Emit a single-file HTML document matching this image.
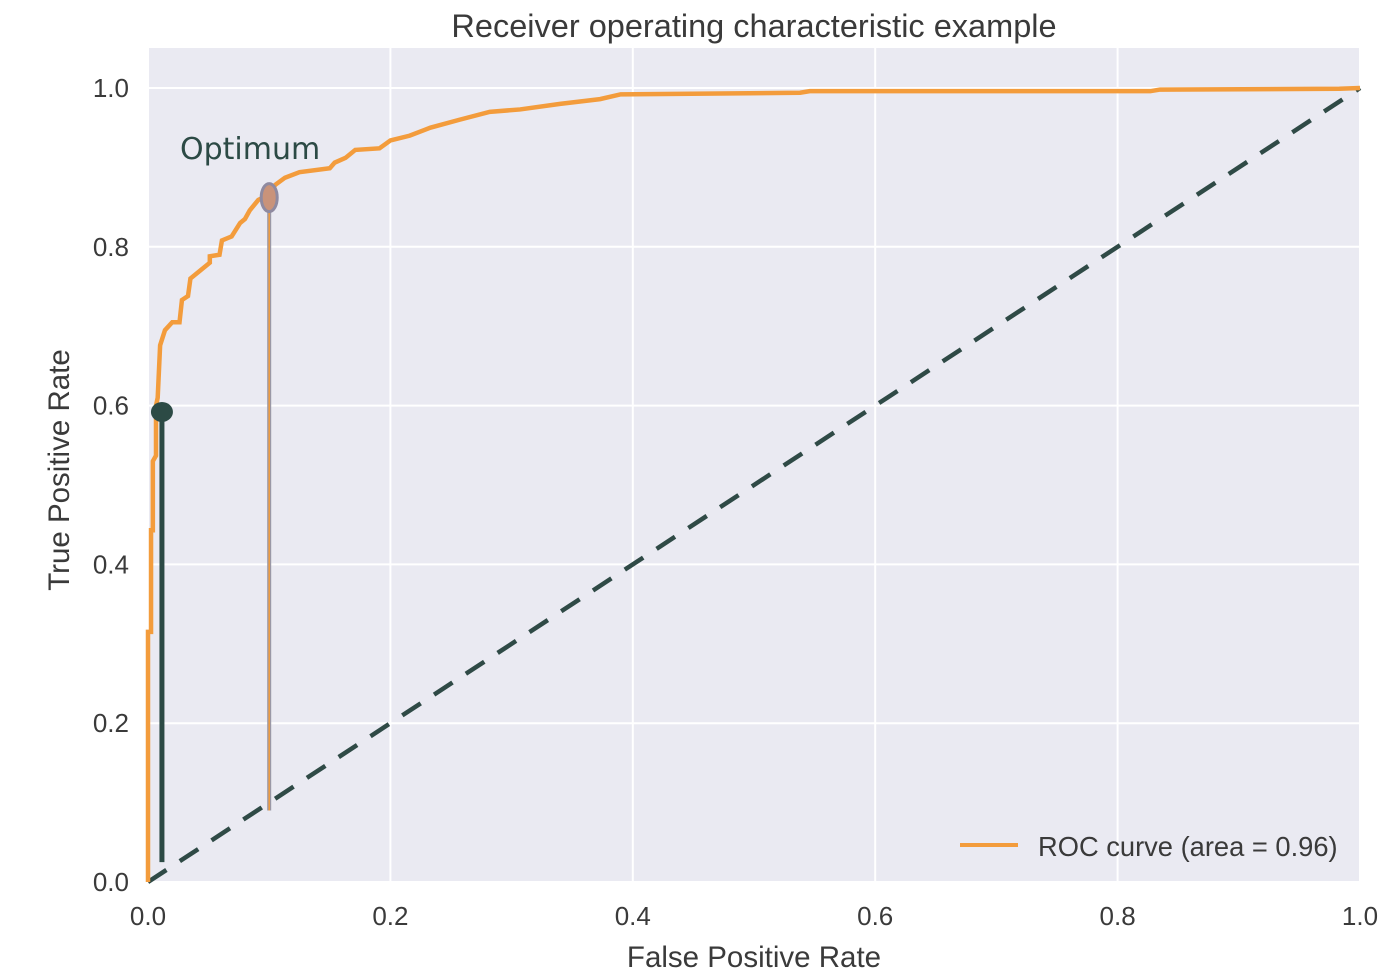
<!DOCTYPE html>
<html><head><meta charset="utf-8"><style>
html,body{margin:0;padding:0;background:#fff}
svg{display:block}
text{font-family:"Liberation Sans",sans-serif;fill:#3a3a3a}
</style></head><body>
<svg id="chart" width="1400" height="979" viewBox="0 0 1400 979">
<rect x="148" y="48" width="1213" height="834" fill="#eaeaf2"/>
<g id="grid"></g>
<g id="ticks"></g>
<text x="754" y="37" font-size="32.5" text-anchor="middle">Receiver operating characteristic example</text>
<text x="754" y="967" font-size="29.5" text-anchor="middle">False Positive Rate</text>
<text transform="translate(69,470) rotate(-90)" font-size="29.5" text-anchor="middle">True Positive Rate</text>
<g id="marks"></g>
<text x="180" y="159" font-size="30" style="fill:#2c4a45;font-family:'DejaVu Sans',sans-serif">Optimum</text>
<line x1="960" y1="845" x2="1018" y2="845" stroke="#f39c3c" stroke-width="4"/>
<text x="1038" y="856" font-size="27.3">ROC curve (area = 0.96)</text>
</svg>
<script>
const fpr = [0,0,0.002,0.0025,0.0025,0.004,0.004,0.0066,0.0066,0.008,0.01,0.014,0.02,0.026,0.028,0.033,0.035,0.043,0.051,0.051,0.059,0.061,0.069,0.076,0.08,0.084,0.091,0.099,0.105,0.113,0.125,0.15,0.154,0.163,0.171,0.191,0.2,0.216,0.233,0.257,0.282,0.307,0.34,0.373,0.39,0.538,0.546,0.827,0.835,0.983,1];
const tpr = [0,0.315,0.315,0.315,0.443,0.443,0.53,0.537,0.6,0.61,0.676,0.695,0.705,0.705,0.733,0.738,0.76,0.77,0.78,0.788,0.79,0.808,0.813,0.83,0.835,0.846,0.859,0.865,0.878,0.887,0.894,0.899,0.906,0.912,0.922,0.924,0.934,0.94,0.95,0.96,0.97,0.973,0.98,0.986,0.992,0.994,0.996,0.996,0.998,0.999,1];
const xTicks = [0,0.2,0.4,0.6,0.8,1.0];
const yTicks = [0,0.2,0.4,0.6,0.8,1.0];
const xTickLabels = ["0.0","0.2","0.4","0.6","0.8","1.0"];
const yTickLabels = ["0.0","0.2","0.4","0.6","0.8","1.0"];
const threshPoint = [0.0115,0.592];
const optimumPoint = [0.1,0.862];
const threshBottom = 0.025;
const optimumBottom = 0.09;

const X = v => 148 + v*1212;
const Y = v => 882 - v*794;
const NS = "http://www.w3.org/2000/svg";
function mk(tag, attrs, parent){const e=document.createElementNS(NS,tag);for(const k in attrs)e.setAttribute(k,attrs[k]);document.getElementById(parent).appendChild(e);return e;}

xTicks.forEach((t,i)=>{
  const g=mk('line',{x1:X(t),x2:X(t),y1:48,y2:882,stroke:'#fff','stroke-width':2},'grid');
  
  
  const l=mk('text',{x:X(t),y:925,'font-size':26,'text-anchor':'middle'},'ticks');
  l.textContent=xTickLabels[i];
  
  
});
yTicks.forEach((t,i)=>{
  const g=mk('line',{x1:148,x2:1361,y1:Y(t),y2:Y(t),stroke:'#fff','stroke-width':2},'grid');
  
  
  const l=mk('text',{x:129,y:Y(t)+9,'font-size':26,'text-anchor':'end'},'ticks');
  l.textContent=yTickLabels[i];
  
  
});

const diag=mk('line',{x1:X(0),y1:Y(0),x2:X(1),y2:Y(1),stroke:'#2f4a46','stroke-width':4.5,'stroke-dasharray':'22 16'},'marks');



const roc=mk('polyline',{points:fpr.map((v,i)=>X(v)+','+Y(tpr[i])).join(' '),fill:'none',stroke:'#f39c3c','stroke-width':4.5,'stroke-linejoin':'miter'},'marks');



const ol=mk('line',{x1:X(optimumPoint[0]),x2:X(optimumPoint[0]),y1:Y(optimumPoint[1]),y2:Y(optimumBottom),stroke:'#9a98a6','stroke-width':4},'marks');


const ol2=mk('line',{x1:X(optimumPoint[0]),x2:X(optimumPoint[0]),y1:Y(optimumPoint[1]),y2:Y(optimumBottom),stroke:'#f39c3c','stroke-width':1.5},'marks');


const om=mk('ellipse',{cx:X(optimumPoint[0]),cy:Y(optimumPoint[1]),rx:8,ry:14,fill:'#c9937a',stroke:'#8f8aa0','stroke-width':3},'marks');



const tl=mk('line',{x1:X(threshPoint[0]),x2:X(threshPoint[0]),y1:Y(threshPoint[1]),y2:Y(threshBottom),stroke:'#2c4a45','stroke-width':5},'marks');


const tm=mk('ellipse',{cx:X(threshPoint[0]),cy:Y(threshPoint[1]),rx:11,ry:10,fill:'#2c4a45'},'marks');


</script>
</body></html>
